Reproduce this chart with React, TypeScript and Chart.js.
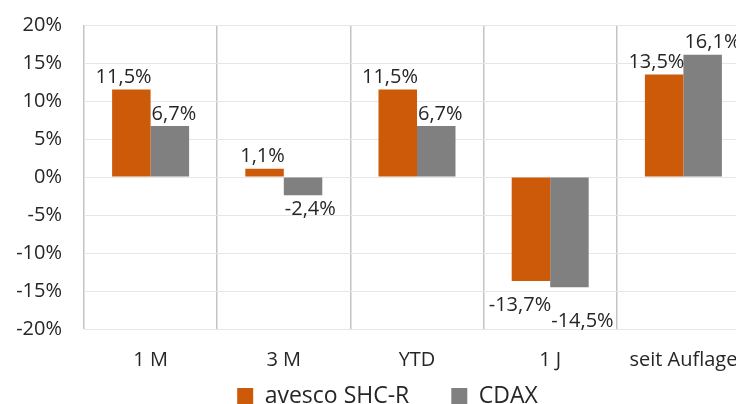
import React, { useEffect, useRef } from "react";
import { Chart, registerables } from "chart.js";

Chart.register(...registerables);

const categories = ["1 M", "3 M", "YTD", "1 J", "seit Auflage"];
const seriesNames = ["avesco SHC-R", "CDAX"];
const avescoValues = [11.5, 1.1, 11.5, -13.7, 13.5];
const cdaxValues = [6.7, -2.4, 6.7, -14.5, 16.1];
const yMin = -20;
const yMax = 20;
const yStep = 5;

const FONT_FAMILY = "'Open Sans', 'Noto Sans', sans-serif";
const FONT_SIZE = 20;
const LEGEND_FONT_SIZE = 23;
const TEXT_COLOR = "#262626";
const ORANGE = "#CD5A08";
const GRAY = "#808080";
const LEGEND_PAD = 42;

const fmtPct = (v: number) => v.toFixed(1).replace(".", ",") + "%";

const barLabelPlugin = {
  id: "barLabels",
  afterDatasetsDraw(chart: any) {
    const ctx = chart.ctx;
    ctx.save();
    ctx.font = `${FONT_SIZE}px ${FONT_FAMILY}`;
    ctx.fillStyle = TEXT_COLOR;
    const metaA = chart.getDatasetMeta(0);
    const metaB = chart.getDatasetMeta(1);
    const dataA = chart.data.datasets[0].data as number[];
    const dataB = chart.data.datasets[1].data as number[];
    const minSep = 16;
    for (let i = 0; i < dataA.length; i++) {
      const a = metaA.data[i].getProps(["x", "y", "width"], true);
      const b = metaB.data[i].getProps(["x", "y", "width"], true);
      const va = dataA[i];
      const vb = dataB[i];
      let offA = 0;
      let offB = 0;
      if (va < 0 && vb < 0) {
        const d = Math.abs(b.y - a.y);
        if (d < minSep) {
          const overlap = minSep - d;
          if (Math.abs(vb) >= Math.abs(va)) {
            offA = overlap;
            offB = 2 * overlap;
          } else {
            offB = overlap;
            offA = 2 * overlap;
          }
        }
      }
      const draw = (p: any, v: number, left: boolean, extra: number) => {
        const half = p.width / 2;
        ctx.textAlign = left ? "right" : "left";
        const tx = left ? p.x + half + 1 : p.x - half + 1;
        if (v >= 0) {
          ctx.textBaseline = "bottom";
          ctx.fillText(fmtPct(v), tx, p.y - 2 - extra);
        } else {
          ctx.textBaseline = "top";
          ctx.fillText(fmtPct(v), tx, p.y + 4 + extra);
        }
      };
      draw(a, va, true, offA);
      draw(b, vb, false, offB);
    }
    ctx.restore();
  },
};

const legendPlacePlugin = {
  id: "legendPlace",
  afterLayout(chart: any) {
    const lg = chart.legend;
    if (!lg) return;
    lg.top = 396 - LEGEND_FONT_SIZE / 2 - LEGEND_PAD;
    lg.bottom = 404 + 30;
    lg.height = lg.bottom - lg.top;
    lg.left = 0;
    lg.right = 775;
    lg.width = 775;
  },
};

export default function App() {
  const canvasRef = useRef<HTMLCanvasElement | null>(null);

  useEffect(() => {
    const canvas = canvasRef.current;
    if (!canvas) return;
    const chart = new Chart(canvas, {
      type: "bar",
      data: {
        labels: categories,
        datasets: [
          {
            label: seriesNames[0],
            data: avescoValues,
            backgroundColor: ORANGE,
            borderWidth: 0,
            categoryPercentage: 0.578,
            barPercentage: 1,
          },
          {
            label: seriesNames[1],
            data: cdaxValues,
            backgroundColor: GRAY,
            borderWidth: 0,
            categoryPercentage: 0.578,
            barPercentage: 1,
          },
        ],
      },
      options: {
        responsive: false,
        animation: false,
        devicePixelRatio: 1,
        layout: { padding: { top: 25, right: 10, left: 0, bottom: 0 } },
        plugins: {
          legend: {
            position: "bottom",
            maxHeight: 30,
            labels: {
              boxWidth: 16,
              boxHeight: 16,
              padding: LEGEND_PAD,
              color: TEXT_COLOR,
              font: { family: FONT_FAMILY, size: LEGEND_FONT_SIZE },
            },
          },
          tooltip: { enabled: false },
          title: { display: false },
        },
        scales: {
          x: {
            offset: true,
            grid: {
              offset: true,
              color: "#C4C4C4",
              lineWidth: 1.5,
              drawTicks: false,
            },
            border: { display: false },
            ticks: {
              color: TEXT_COLOR,
              padding: 19,
              font: { family: FONT_FAMILY, size: FONT_SIZE },
              maxRotation: 0,
              autoSkip: false,
            },
            afterFit(scale: any) {
              scale.height = 404 - 329 - 30;
            },
          },
          y: {
            min: yMin,
            max: yMax,
            ticks: {
              stepSize: yStep,
              color: TEXT_COLOR,
              padding: 0,
              font: { family: FONT_FAMILY, size: FONT_SIZE },
              callback: (v: any) => `${v}%`,
            },
            grid: {
              color: "#E6E6E6",
              lineWidth: 1,
              drawTicks: true,
              tickLength: 22,
              tickColor: "rgba(0,0,0,0)",
            },
            border: { display: false },
            afterFit(scale: any) {
              scale.width = 84;
            },
          },
        },
      },
      plugins: [barLabelPlugin, legendPlacePlugin],
    });
    return () => chart.destroy();
  }, []);

  return (
    <div
      style={{
        position: "absolute",
        left: 0,
        top: 0,
        width: 736,
        height: 404,
        overflow: "hidden",
        background: "#ffffff",
      }}
    >
      <canvas ref={canvasRef} width={760} height={404} style={{ display: "block" }} />
    </div>
  );
}
